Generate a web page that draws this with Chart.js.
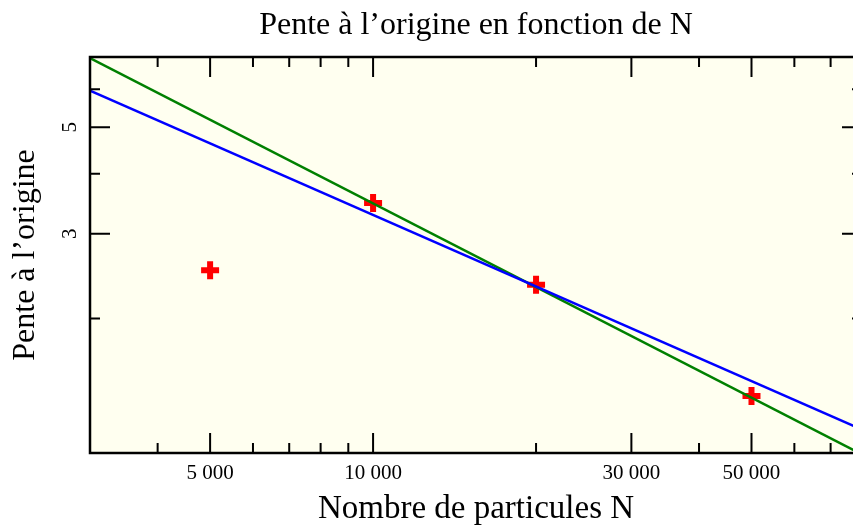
<!DOCTYPE html>
<html lang="fr">
<head>
<meta charset="utf-8">
<title>Pente à l’origine en fonction de N</title>
<script src="https://cdn.jsdelivr.net/npm/chart.js@4.4.0/dist/chart.umd.min.js"></script>
<style>
  html, body { margin: 0; padding: 0; background: #fff; overflow: hidden; }
  #wrap { width: 880px; height: 525px; }
</style>
</head>
<body>
<div id="wrap"><canvas id="graphe" width="880" height="525"></canvas></div>
<script>
// Pente à l'origine en fonction du nombre de particules (échelles log-log)

// Données
const nParticules = [5000, 10000, 20000, 50000];
const pentes = [2.52, 3.48, 2.35, 1.38];

// Droites d'ajustement (extrémités)
const ajustX = [3000, 80000];
const ajustBleu = [5.96, 1.174];
const ajustVert = [6.96, 1.043];

// Graduations
const xMajeurs = [5000, 10000, 30000, 50000];
const xMineurs = [4000, 6000, 7000, 8000, 9000, 20000, 40000, 60000, 70000];
const yMajeurs = [3, 5];
const yMineurs = [2, 4, 6];

const POLICE = "'Liberation Serif', 'Times New Roman', serif";
const FOND = '#fffff0';

function milliers(v){ return String(v).replace(/\B(?=(\d{3})+(?!\d))/g, ' '); }

const cadre = {
  id: 'cadre',
  beforeDatasetsDraw(chart){
    const {ctx, chartArea: a} = chart;
    ctx.save();
    ctx.fillStyle = FOND;
    ctx.fillRect(a.left, a.top, a.right - a.left, a.bottom - a.top);
    ctx.restore();
  },
  afterDatasetsDraw(chart){
    const {ctx, chartArea: a, scales: {x, y}} = chart;
    ctx.save();
    ctx.strokeStyle = '#000';
    ctx.lineWidth = 2;
    ctx.beginPath();
    const marqueX = (v, l) => {
      const px = x.getPixelForValue(v);
      ctx.moveTo(px, a.bottom); ctx.lineTo(px, a.bottom - l);
      ctx.moveTo(px, a.top); ctx.lineTo(px, a.top + l);
    };
    const marqueY = (v, l) => {
      const py = y.getPixelForValue(v);
      ctx.moveTo(a.left, py); ctx.lineTo(a.left + l, py);
      ctx.moveTo(a.right, py); ctx.lineTo(a.right - l, py);
    };
    xMajeurs.forEach(v => marqueX(v, 20));
    xMineurs.forEach(v => marqueX(v, 10));
    yMajeurs.forEach(v => marqueY(v, 20));
    yMineurs.forEach(v => marqueY(v, 10));
    ctx.stroke();
    ctx.lineWidth = 2.5;
    ctx.strokeRect(a.left, a.top, a.right - a.left, a.bottom - a.top);

    // étiquettes de l'axe y, tournées
    ctx.fillStyle = '#000';
    ctx.font = '21px ' + POLICE;
    ctx.textAlign = 'center';
    ctx.textBaseline = 'alphabetic';
    yMajeurs.forEach(v => {
      ctx.save();
      ctx.translate(a.left - 14, y.getPixelForValue(v));
      ctx.rotate(-Math.PI / 2);
      ctx.fillText(String(v), 0, 0);
      ctx.restore();
    });
    ctx.restore();
  }
};

const ctx = document.getElementById('graphe');
new Chart(ctx, {
  type: 'scatter',
  data: {
    datasets: [
      {
        label: 'Ajustement 2',
        type: 'line',
        data: ajustX.map((v, i) => ({x: v, y: ajustBleu[i]})),
        borderColor: '#0000ff',
        borderWidth: 2.5,
        pointRadius: 0,
        order: 1
      },
      {
        label: 'Ajustement 1',
        type: 'line',
        data: ajustX.map((v, i) => ({x: v, y: ajustVert[i]})),
        borderColor: '#008000',
        borderWidth: 2.5,
        pointRadius: 0,
        order: 2
      },
      {
        label: 'Pente',
        data: nParticules.map((v, i) => ({x: v, y: pentes[i]})),
        pointStyle: 'cross',
        pointRadius: 9,
        pointHoverRadius: 9,
        borderWidth: 6,
        borderColor: '#ff0000',
        backgroundColor: '#ff0000',
        order: 3
      }
    ]
  },
  options: {
    responsive: false,
    animation: false,
    events: [],
    layout: { padding: { left: 0, right: 18, top: 0, bottom: 0 } },
    plugins: {
      legend: { display: false },
      tooltip: { enabled: false },
      title: {
        display: true,
        fullSize: false,
        text: 'Pente à l’origine en fonction de N',
        color: '#000',
        font: { family: POLICE, size: 32, weight: 'normal' },
        padding: { top: 6, bottom: 12.6 }
      }
    },
    scales: {
      x: {
        type: 'logarithmic',
        min: 3000,
        max: 80000,
        grid: { display: false },
        border: { display: false },
        afterBuildTicks: s => { s.ticks = xMajeurs.map(v => ({value: v})); },
        afterFit: s => { s.height = 72; },
        ticks: {
          autoSkip: false,
          maxRotation: 0,
          padding: 0,
          color: '#000',
          font: { family: POLICE, size: 21 },
          callback: v => milliers(v)
        },
        title: {
          display: true,
          text: 'Nombre de particules N',
          color: '#000',
          font: { family: POLICE, size: 33 },
          padding: { top: 0, bottom: -4 }
        }
      },
      y: {
        type: 'logarithmic',
        min: 1.05,
        max: 7,
        grid: { display: false },
        border: { display: false },
        afterBuildTicks: s => { s.ticks = yMajeurs.map(v => ({value: v})); },
        afterFit: s => { s.width = 90; },
        ticks: { display: false },
        title: {
          display: true,
          text: 'Pente à l’origine',
          color: '#000',
          font: { family: POLICE, size: 32 },
          padding: { top: 6, bottom: 0 }
        }
      }
    }
  },
  plugins: [cadre]
});
</script>
</body>
</html>
